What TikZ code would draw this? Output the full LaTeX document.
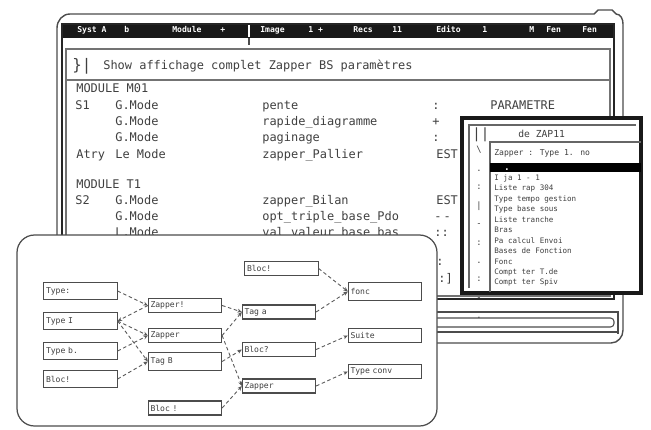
\documentclass[tikz,border=0pt]{standalone}
\usepackage{fontspec}
\newfontfamily\scrfont{DejaVu Sans Mono}
\usetikzlibrary{arrows.meta}

\tikzset{
  menu/.style={text=white,font=\scrfont\bfseries\fontsize{4.6}{5}\selectfont,anchor=base west,inner sep=0pt},
  listrow/.style={text=black!75,font=\scrfont\fontsize{6.8}{8}\selectfont,anchor=base west,inner sep=0pt},
  poprow/.style={text=black!75,font=\scrfont\fontsize{4.3}{5.97}\selectfont,anchor=north west,inner sep=0pt,align=left},
  blockbox/.style={draw=black!70,fill=white,line width=0.6pt,text width=1.38cm,minimum height=0.28cm,
    inner sep=1.2pt,align=left,text=black!75,font=\scrfont\fontsize{4.6}{5}\selectfont},
  tallbox/.style={blockbox,minimum height=0.35cm},
  link/.style={black!65,dash pattern=on 2pt off 1.5pt,line width=0.5pt,-{Stealth[length=2.6pt,width=2.2pt]}},
}

\begin{document}
\begin{tikzpicture}[x=0.02cm,y=-0.02cm]
  \useasboundingbox[fill=white] (0,0) rectangle (651,429);

  % casing of the screen
  \draw[black!70,line width=0.8pt] (57,240) -- (57,28) to[out=90,in=180] (70,14) -- (594,14)
    -- (598,10) -- (612,10) -- (616,14) to[out=0,in=90] (623,24) -- (623,330)
    to[out=-90,in=0] (611,343) -- (430,343);
  \draw[black!70,line width=0.6pt] (430,312) -- (618,312) -- (618,334);
  \draw[black!70,line width=0.6pt,rounded corners=2pt] (430,318) -- (614,318) -- (614,327) -- (430,327);
  \draw[black!70,line width=0.6pt] (430,332) -- (618,332);

  % main window
  \fill[black!90] (62,24) rectangle (614,38);
  \draw[black!85,line width=1.6pt] (62,24) rectangle (614,299);
  \draw[black!55,line width=1.1pt] (66,49) rectangle (610,296);
  \draw[black!55,line width=0.8pt] (66,80) -- (610,80);
  \draw[white,line width=0.8pt] (249,25) -- (249,37);
  \draw[black!70,line width=0.8pt] (249,38) -- (249,45);
  \path
    (77,33) node[menu] (mSyst){Syst A}
    (124,33) node[menu] (mB){b}
    (172,33) node[menu] (mModule){Module}
    (220,33) node[menu] (mPlus){+}
    (260,33) node[menu] (mImage){Image}
    (308,33) node[menu] (mOne){1 +}
    (353,33) node[menu] (mRecs){Recs}
    (392,33) node[menu] (mEleven){11}
    (436,33) node[menu] (mEdit){Edito}
    (482,33) node[menu] (mI){1}
    (529,33) node[menu] (mM){M}
    (546,33) node[menu] (mFen){Fen}
    (582,33) node[menu] (mFenb){Fen};

  \path (72,71) node[listrow,font=\scrfont\fontsize{9}{9}\selectfont] (icon){\}|}
    (103,70) node[listrow] (title){Show affichage complet Zapper BS paramètres};

  \path (76,92) node[listrow] (hdrA){MODULE M01};
  \path (75,109) node[listrow] (sA){S1} (115,109) node[listrow] (modeA){G.Mode}
    (262,109) node[listrow] (nameA){pente} (432,109) node[listrow] (sepA){:}
    (490,109) node[listrow] (valA){PARAMETRE};
  \path (115,125) node[listrow] (modeB){G.Mode}
    (262,125) node[listrow] (nameB){rapide\_diagramme} (432,125) node[listrow] (sepB){+};
  \path (115,141) node[listrow] (modeC){G.Mode}
    (262,141) node[listrow] (nameC){paginage} (432,141) node[listrow] (sepC){:};
  \path (76,158) node[listrow] (sD){Atry} (115,158) node[listrow] (modeD){Le Mode}
    (262,158) node[listrow] (nameD){zapper\_Pallier} (436,158) node[listrow] (sepD){EST};
  \path (76,188) node[listrow] (hdrB){MODULE T1};
  \path (75,204) node[listrow] (sE){S2} (115,204) node[listrow] (modeE){G.Mode}
    (262,204) node[listrow] (nameE){zapper\_Bilan} (436,204) node[listrow] (sepE){EST};
  \path (115,220) node[listrow] (modeF){G.Mode}
    (262,220) node[listrow] (nameF){opt\_triple\_base\_Pdo} (434,220) node[listrow] (sepF){-\,-};
  \path (115,236) node[listrow] (modeG){L.Mode}
    (262,236) node[listrow] (nameG){val\_valeur\_base\_bas} (434,236) node[listrow] (sepG){::};
  \path (436,265) node[listrow] (sepH){:} (438,282) node[listrow] (sepI){:]};

  % pop-up list
  \fill[white] (462,118) rectangle (641,293);
  \draw[black!90,line width=1.8pt] (462,118) rectangle (641,293);
  \draw[black!60,line width=0.6pt] (469,288) -- (469,125) -- (636,125);
  \path (472,138) node[listrow,font=\scrfont\fontsize{8}{8}\selectfont] (popIcon){||}
    (518,137) node[listrow,font=\scrfont\fontsize{5.5}{6}\selectfont] (popTitle){de ZAP11};
  \draw[black!60,line width=0.7pt] (490,292) -- (490,142) -- (641,142);
  \path (494,155) node[listrow,font=\scrfont\fontsize{4.6}{5}\selectfont] (popHead){Zapper : Type 1.   no};
  \fill[black] (490,163) rectangle (641,172);
  \path (503,170) node[listrow,text=white] (popSel){.};
  \path (494,174) node[poprow] (popList){I ja 1 - 1\\Liste rap   304\\Type tempo gestion\\Type base  sous\\
    Liste tranche\\Bras\\Pa calcul Envoi\\Bases de Fonction\\Fonc\\Compt ter  T.de\\Compt ter Spiv};
  \path (476,146) node[poprow,font=\scrfont\fontsize{5}{10.5}\selectfont] (popMarks){\textbackslash\\.\\:\\|\\-\\:\\.\\:\\-\\.};

  % flow panel
  \draw[black!70,line width=0.7pt,fill=white,rounded corners=10pt] (17,235) rectangle (437,426);
  \draw
    (80.5,291) node[tallbox] (L1){Type:}
    (80.5,321) node[tallbox] (L2){Type I}
    (80.5,351) node[tallbox] (L3){Type b.}
    (80.5,379) node[tallbox] (L4){Bloc!}
    (185,305.5) node[blockbox] (M1){Zapper!}
    (185,335.5) node[blockbox] (M2){Zapper}
    (185,361.5) node[tallbox] (M3){Tag B}
    (185,408) node[blockbox] (M4){Bloc !}
    (281.5,268.5) node[blockbox] (B0){Bloc!}
    (279,312) node[blockbox] (B1){Tag a}
    (279,349.5) node[blockbox] (B2){Bloc?}
    (279,386) node[blockbox] (B3){Zapper}
    (385,291.5) node[tallbox] (R1){fonc}
    (385,335.5) node[blockbox] (R2){Suite}
    (385,371.5) node[blockbox] (R3){Type conv};
  \begin{scope}[link]
    \draw (L1.east) to (M1.west);
    \draw (M1.west) to (L2.east);
    \draw (L2.east) to (M2.west);
    \draw (L2.east) to (M3.west);
    \draw (L3.east) to (M2.west);
    \draw (L4.east) to (M3.west);
    \draw (M1.east) to (B1.west);
    \draw (M2.east) to (B1.west);
    \draw (M2.east) to (B3.west);
    \draw (M3.east) to (B2.west);
    \draw (M4.east) to (B3.west);
    \draw (B0.east) to (R1.west);
    \draw (B1.east) to (R1.west);
    \draw (B2.east) to (R2.west);
    \draw (B3.east) to (R3.west);
  \end{scope}
\end{tikzpicture}
\end{document}
